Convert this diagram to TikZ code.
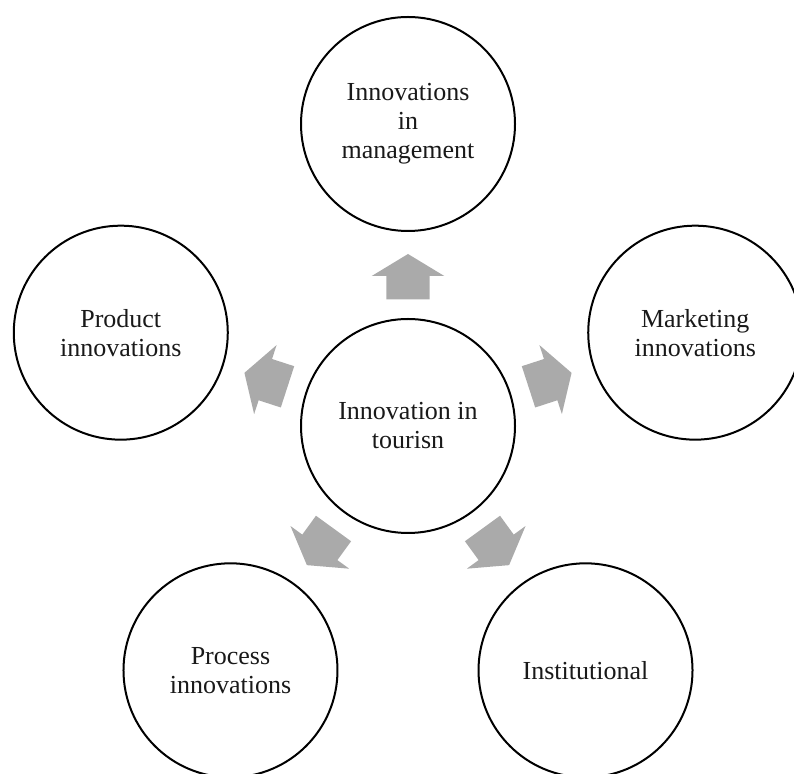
\documentclass[tikz,border=0pt]{standalone}
\usepackage{fontspec}
\setmainfont{Liberation Serif}
\usetikzlibrary{calc}
\definecolor{arrowgray}{RGB}{170,170,170}
\definecolor{inkgray}{RGB}{25,25,25}
\begin{document}
\begin{tikzpicture}[x=1pt,y=1pt,
  bubble/.style={circle,draw=black,line width=2pt,minimum size=214pt,inner sep=0pt,
    align=center,text=inkgray,font=\fontsize{26}{29}\selectfont},
  spoke/.style={fill=arrowgray,draw=none}]
\useasboundingbox (0,0) rectangle (794,773);
\clip (0,0) rectangle (794,773);
\coordinate (c) at (408,347);
% hub and the five surrounding bubbles
\node[bubble] (hub) at (c) {Innovation in\\tourisn};
\node[bubble] (mgmt) at ($(c)+(90:302)$) {Innovations\\in\\management};
\node[bubble] (prod) at ($(c)+(162:302)$) {Product\\innovations};
\node[bubble] (proc) at ($(c)+(234:302)$) {Process\\innovations};
\node[bubble] (inst) at ($(c)+(306:302)$) {Institutional};
\node[bubble] (mark) at ($(c)+(18:302)$) {Marketing\\innovations};
% block arrows pointing outwards from the hub
\foreach \a in {90,162,234,306,18}{
  \begin{scope}[shift={(hub.center)},rotate=\a-90]
    \fill[spoke] (-21.7,126.7) -- (21.7,126.7) -- (21.7,150) -- (36.3,150)
      -- (0,172) -- (-36.3,150) -- (-21.7,150) -- cycle;
  \end{scope}
}
\end{tikzpicture}
\end{document}
